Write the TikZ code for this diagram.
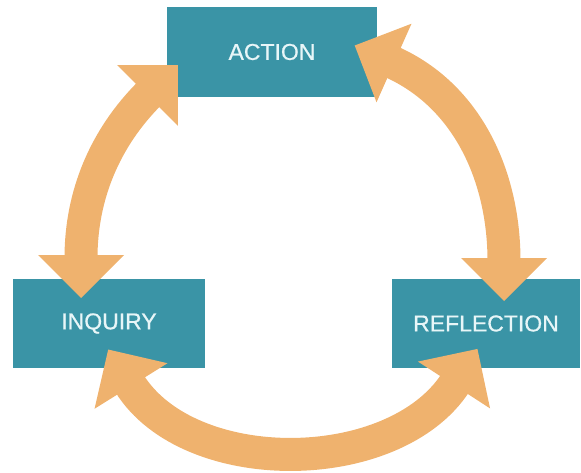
\documentclass[tikz,border=0pt]{standalone}
\usepackage{fontspec}
\setmainfont{Liberation Sans}
\newfontfamily\stagefont[FakeBold=0.7]{Liberation Sans}
\usetikzlibrary{calc}
\definecolor{boxteal}{RGB}{58,148,166}
\definecolor{arroworange}{RGB}{239,178,110}
\definecolor{boxtext}{RGB}{232,246,248}
\tikzset{
  stagebox/.style={fill=boxteal, draw=none, inner sep=0pt, text=boxtext,
    font=\stagefont\fontsize{23}{26}\selectfont},
  shaft/.style={draw=arroworange, line width=33pt, line cap=butt,
    shorten <=-3pt, shorten >=-3pt},
}
\newcommand\orhead[2]{\fill[arroworange] ($(#1)+(#2:43)$) -- ($(#1)+(#2+90:43)$) -- ($(#1)+(#2-90:43)$) -- cycle;}
\begin{document}
\begin{tikzpicture}[x=1pt,y=1pt]
\useasboundingbox (0,0) rectangle (581,472);
% stages
\node[stagebox, minimum width=210pt, minimum height=90pt] (action) at (272,420) {ACTION};
\node[stagebox, minimum width=192pt, minimum height=89pt] (inquiry) at (109,148.5) {INQUIRY};
\node[stagebox, minimum width=188pt, minimum height=89pt] (reflection) at (486,148.5) {REFLECTION};
% arrow back points
\coordinate (LB) at (81,217);
\coordinate (LT) at (147.5,376.5);
\coordinate (RT) at (394,409);
\coordinate (RB) at (504,214);
\coordinate (BL) at (131,86);
\coordinate (BR) at (454,87);
% shafts
\draw[shaft] (LB) .. controls +(90:60) and +(225:60) .. (LT);
\draw[shaft] (RT) .. controls +(336:81) and +(90:81) .. (RB);
\draw[shaft] (BL) .. controls +(302:110) and +(237:110) .. (BR);
% heads
\orhead{LB}{270}
\orhead{LT}{45}
\orhead{RT}{156}
\orhead{RB}{270}
\orhead{BL}{122}
\orhead{BR}{57}
\end{tikzpicture}
\end{document}
